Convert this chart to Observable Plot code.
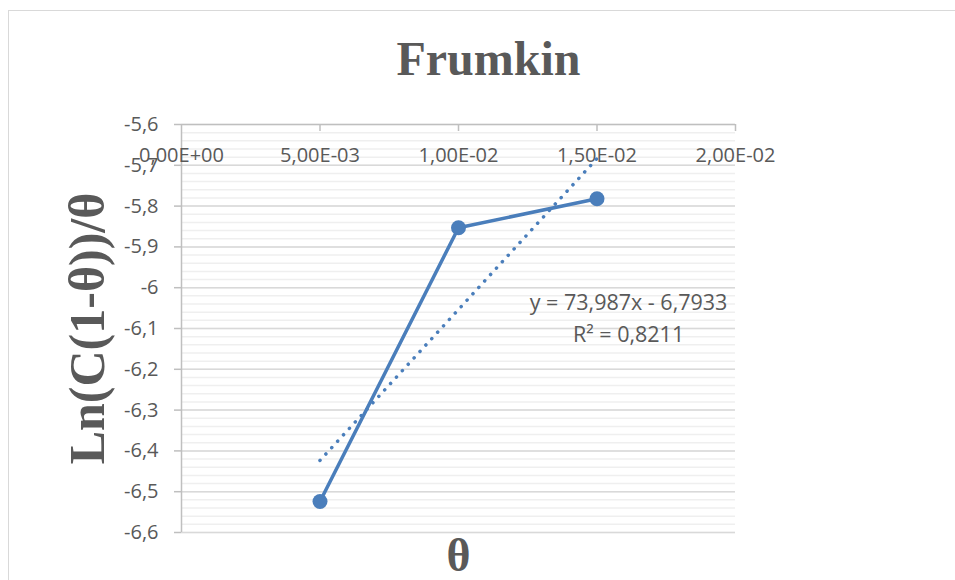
<!DOCTYPE html>
<html>
<head>
<meta charset="utf-8">
<script src="https://cdn.jsdelivr.net/npm/d3@7"></script>
<script src="https://cdn.jsdelivr.net/npm/@observablehq/plot@0.6"></script>
<style>
  html, body { margin: 0; padding: 0; background: #fff; }
  #wrap { position: relative; width: 955px; height: 580px; overflow: hidden; }
  #border { position: absolute; left: 8px; top: 10px; width: 1000px; height: 1000px; border: 1.5px solid #d9d9d9; box-sizing: border-box; }
  #chart { position: absolute; left: 0; top: 0; }
</style>
</head>
<body>
<div id="wrap"><div id="border"></div><div id="chart"></div></div>
<script>
// Data
const theta = [0.005, 0.01, 0.015];
const lnValues = [-6.524, -5.853, -5.782];

// Trendline (from the displayed equation)
const trendSlope = 73.987;
const trendIntercept = -6.7933;
const trendX = [0.005, 0.015];
const trendLabel = "y = 73,987x - 6,7933\nR² = 0,8211";

// Axes
const xTicks = [0, 0.005, 0.01, 0.015, 0.02];
const xTickLabels = ["0,00E+00", "5,00E-03", "1,00E-02", "1,50E-02", "2,00E-02"];
const yTicks = [-6.6, -6.5, -6.4, -6.3, -6.2, -6.1, -6.0, -5.9, -5.8, -5.7, -5.6];
const yTickLabels = ["-6,6", "-6,5", "-6,4", "-6,3", "-6,2", "-6,1", "-6", "-5,9", "-5,8", "-5,7", "-5,6"];
const yMinor = d3.range(0, 51).map(i => -6.6 + i * 0.02);

const title = "Frumkin";
const xLabel = "θ";
const yLabel = "Ln(C(1-θ))/θ";

const points = theta.map((t, i) => ({x: t, y: lnValues[i]}));
const trend = trendX.map(x => ({x, y: trendSlope * x + trendIntercept}));

const gray = "#595959";
const blue = "#4a7ebb";
const tickFont = "'Open Sans', sans-serif";
const serif = "'Liberation Serif', 'Times New Roman', serif";

const chart = Plot.plot({
  width: 955,
  height: 580,
  marginLeft: 181,
  marginRight: 220,
  marginTop: 124,
  marginBottom: 48,
  style: {background: "transparent", overflow: "visible"},
  x: {domain: [0, 0.02]},
  y: {domain: [-6.6, -5.6]},
  marks: [
    Plot.ruleY(yMinor, {stroke: "#efefef", strokeWidth: 1.5}),
    Plot.ruleY(yTicks.slice(0, -1), {stroke: "#d9d9d9", strokeWidth: 1.5}),
    Plot.ruleY([-5.6], {stroke: "#bfbfbf", strokeWidth: 1.5}),
    Plot.ruleX([0], {stroke: "#bfbfbf", strokeWidth: 1.5}),
    Plot.ruleX(xTicks.slice(1), {stroke: "#bfbfbf", strokeWidth: 1.5, insetBottom: 401}),
    Plot.axisY({
      ticks: yTicks,
      tickFormat: d => yTickLabels[yTicks.findIndex(v => Math.abs(v - d) < 1e-9)],
      tickSize: 7,
      tickPadding: 16,
      stroke: "#bfbfbf",
      strokeWidth: 1.5,
      strokeOpacity: 1,
      fill: gray,
      fontSize: 20,
      fontFamily: tickFont,
      label: null
    }),
    Plot.axisX({
      anchor: "top",
      ticks: xTicks,
      tickFormat: d => xTickLabels[xTicks.findIndex(v => Math.abs(v - d) < 1e-12)],
      tickSize: 0,
      tickPadding: -31,
      lineAnchor: "middle",
      fill: gray,
      fontSize: 20,
      fontFamily: tickFont,
      label: null
    }),
    Plot.line(trend, {x: "x", y: "y", stroke: blue, strokeWidth: 3.5, strokeDasharray: "0.1 8.6", strokeLinecap: "round"}),
    Plot.line(points, {x: "x", y: "y", stroke: blue, strokeWidth: 3.5}),
    Plot.dot(points, {x: "x", y: "y", r: 7.5, fill: blue, stroke: "none"}),
    Plot.text([trendLabel], {x: () => 0.01614, y: () => -6.068, lineHeight: 1.5, lineAnchor: "middle", textAnchor: "middle", fill: gray, fontSize: 21.5, fontFamily: tickFont}),
    Plot.text([title], {frameAnchor: "top", dx: 30, dy: -65, lineAnchor: "middle", fill: gray, fontSize: 48, fontWeight: "bold", fontFamily: serif}),
    Plot.text([xLabel], {frameAnchor: "bottom", dy: 24, lineAnchor: "middle", fill: gray, fontSize: 46, fontWeight: "bold", fontFamily: serif}),
    Plot.text([yLabel], {frameAnchor: "left", dx: -94, rotate: -90, textAnchor: "middle", lineAnchor: "middle", fill: gray, fontSize: 50, fontWeight: "bold", fontFamily: serif})
  ]
});
document.getElementById("chart").appendChild(chart);
</script>
</body>
</html>
